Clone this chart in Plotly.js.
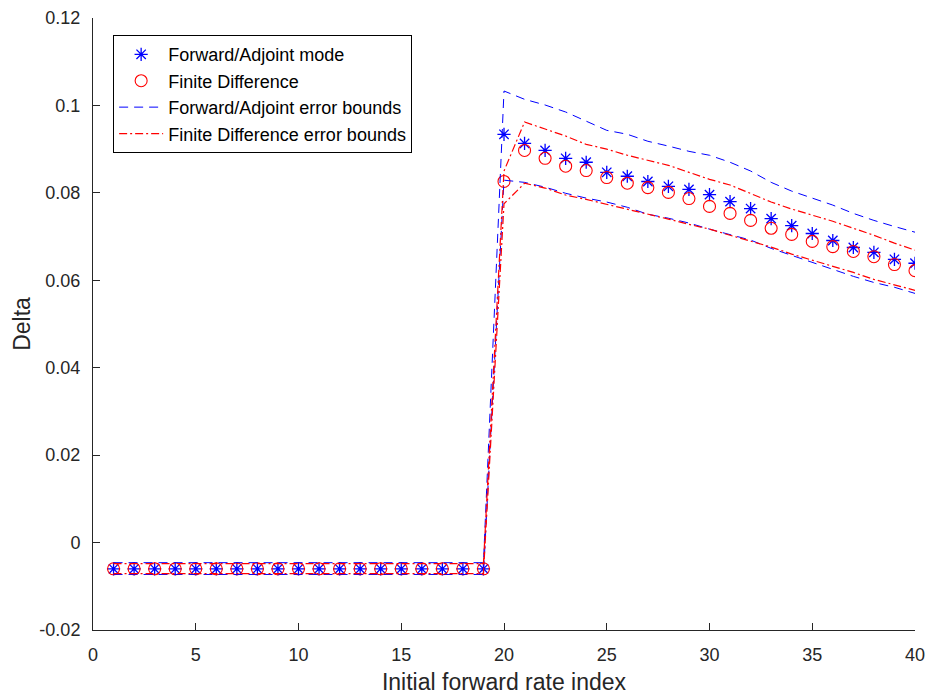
<!DOCTYPE html>
<html>
<head>
<meta charset="utf-8">
<script src="https://cdn.plot.ly/plotly-3.0.1.min.js"></script>
<style>html,body{margin:0;padding:0;background:#fff;}#chart{width:925px;height:698px;}</style>
</head>
<body>
<div id="chart"></div>
<script>
const xIdx = Array.from({length: 40}, (_, i) => i + 1);

const flatFA = -0.0060;
const flatFD = -0.0060;
const faTail = [0.0934, 0.0913, 0.0897, 0.0879, 0.0870, 0.0847, 0.0838, 0.0826, 0.0815, 0.0808,
                0.0796, 0.0780, 0.0764, 0.0741, 0.0725, 0.0707, 0.0691, 0.0675, 0.0664, 0.0648, 0.0639];
const fdTail = [0.0826, 0.0897, 0.0879, 0.0861, 0.0851, 0.0835, 0.0822, 0.0812, 0.0801, 0.0787,
                0.0769, 0.0753, 0.0737, 0.0719, 0.0705, 0.0689, 0.0677, 0.0666, 0.0654, 0.0636, 0.0622];

const faUpperTail = [0.1033, 0.1014, 0.1001, 0.0985, 0.0964, 0.0943, 0.0934, 0.0918, 0.0907, 0.0895,
                     0.0886, 0.0870, 0.0850, 0.0824, 0.0804, 0.0788, 0.0772, 0.0753, 0.0737, 0.0723, 0.0710];
const faLowerTail = [0.0829, 0.0824, 0.0813, 0.0799, 0.0788, 0.0779, 0.0767, 0.0751, 0.0742, 0.0731,
                     0.0717, 0.0705, 0.0692, 0.0673, 0.0657, 0.0641, 0.0625, 0.0609, 0.0595, 0.0584, 0.0570];
const fdUpperTail = [0.0850, 0.0962, 0.0946, 0.0930, 0.0911, 0.0900, 0.0886, 0.0875, 0.0863, 0.0847,
                     0.0831, 0.0818, 0.0799, 0.0779, 0.0763, 0.0749, 0.0735, 0.0719, 0.0703, 0.0685, 0.0669];
const fdLowerTail = [0.0775, 0.0822, 0.0811, 0.0795, 0.0785, 0.0774, 0.0763, 0.0751, 0.0740, 0.0728,
                     0.0717, 0.0703, 0.0689, 0.0676, 0.0660, 0.0646, 0.0632, 0.0618, 0.0602, 0.0589, 0.0577];

const faUpperFlat = -0.0046, faLowerFlat = -0.0073;
const fdUpperFlat = -0.0048, fdLowerFlat = -0.0071;

const head = n => Array(19).fill(n);
const faVals = head(flatFA).concat(faTail);
const fdVals = head(flatFD).concat(fdTail);
const faUpper = head(faUpperFlat).concat(faUpperTail);
const faLower = head(faLowerFlat).concat(faLowerTail);
const fdUpper = head(fdUpperFlat).concat(fdUpperTail);
const fdLower = head(fdLowerFlat).concat(fdLowerTail);

const xTicks = [0, 5, 10, 15, 20, 25, 30, 35, 40];
const yTicks = [-0.02, 0, 0.02, 0.04, 0.06, 0.08, 0.1, 0.12];
const yTickText = ['-0.02', '0', '0.02', '0.04', '0.06', '0.08', '0.1', '0.12'];

const BLUE = '#0000ff', RED = '#ff0000';

const traces = [
  {x: xIdx, y: faVals, mode: 'markers', name: 'Forward/Adjoint mode',
   marker: {symbol: 'asterisk-open', size: 11, color: BLUE, line: {color: BLUE, width: 1.3}}},
  {x: xIdx, y: fdVals, mode: 'markers', name: 'Finite Difference',
   marker: {symbol: 'circle-open', size: 12, color: RED, line: {color: RED, width: 1.1}}},
  {x: xIdx, y: faUpper, mode: 'lines', name: 'Forward/Adjoint error bounds', legendgroup: 'fa',
   line: {color: BLUE, width: 1, dash: '9px,6px'}},
  {x: xIdx, y: faLower, mode: 'lines', name: 'Forward/Adjoint error bounds', legendgroup: 'fa', showlegend: false,
   line: {color: BLUE, width: 1, dash: '9px,6px'}},
  {x: xIdx, y: fdUpper, mode: 'lines', name: 'Finite Difference error bounds', legendgroup: 'fd',
   line: {color: RED, width: 1.2, dash: '8px,3px,2px,3px'}},
  {x: xIdx, y: fdLower, mode: 'lines', name: 'Finite Difference error bounds', legendgroup: 'fd', showlegend: false,
   line: {color: RED, width: 1.2, dash: '8px,3px,2px,3px'}}
];

const axisCol = '#262626';
const layout = {
  width: 925, height: 698,
  margin: {l: 93, r: 10, t: 18, b: 68},
  paper_bgcolor: '#fff', plot_bgcolor: '#fff',
  font: {family: 'Liberation Sans, Arial, sans-serif', color: axisCol, size: 18},
  showlegend: true,
  legend: {x: 0.0245, y: 0.972, xanchor: 'left', yanchor: 'top',
           bgcolor: '#fff', bordercolor: '#000', borderwidth: 1, itemwidth: 44,
           font: {size: 18, color: '#000'}, tracegroupgap: 0, traceorder: 'normal'},
  xaxis: {range: [0, 40], tickvals: xTicks, ticktext: xTicks.map(String),
          ticks: 'inside', ticklen: 7, tickcolor: axisCol, showline: true, linecolor: axisCol, linewidth: 1,
          showgrid: false, zeroline: false, mirror: false, ticklabelstandoff: 8, ticklabeloverflow: 'allow',
          tickfont: {size: 18, color: axisCol},
          title: {text: 'Initial forward rate index', font: {size: 23, color: axisCol}, standoff: 10}},
  yaxis: {range: [-0.02, 0.12], tickvals: yTicks, ticktext: yTickText,
          ticks: 'inside', ticklen: 7, tickcolor: axisCol, showline: true, linecolor: axisCol, linewidth: 1,
          showgrid: false, zeroline: false, mirror: false, ticklabelstandoff: 8,
          tickfont: {size: 18, color: axisCol},
          title: {text: 'Delta', font: {size: 23, color: axisCol}, standoff: 2}}
};

Plotly.newPlot('chart', traces, layout, {displayModeBar: false, staticPlot: true});
</script>
</body>
</html>
